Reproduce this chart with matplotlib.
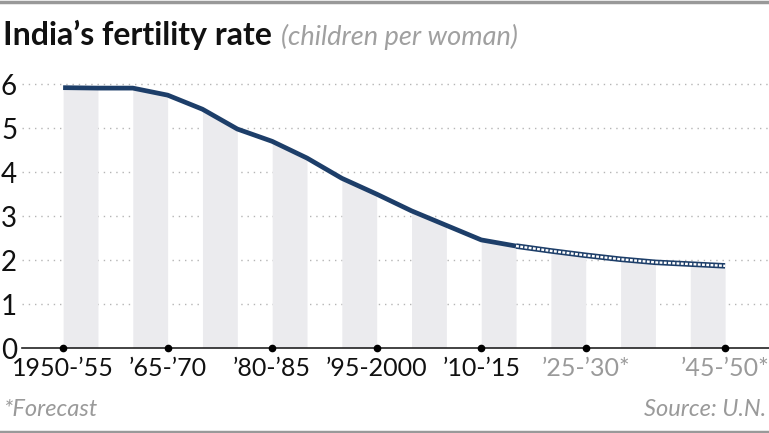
import matplotlib
matplotlib.use("Agg")
import matplotlib.pyplot as plt
from matplotlib.lines import Line2D

years = [1950, 1955, 1960, 1965, 1970, 1975, 1980, 1985, 1990, 1995,
         2000, 2005, 2010, 2015, 2020, 2025, 2030, 2035, 2040, 2045]
rates = [5.91, 5.90, 5.90, 5.74, 5.42, 4.97, 4.69, 4.31, 3.85, 3.49,
         3.11, 2.78, 2.45, 2.31, 2.20, 2.10, 2.01, 1.94, 1.90, 1.86]
forecast_start = 2015
tick_years = [1950, 1965, 1980, 1995, 2010, 2025, 2045]
tick_labels = ["1950-\u201955", "\u201965-\u201970", "\u201980-\u201985", "\u201995-2000",
               "\u201910-\u201915", "\u201925-\u201930*", "\u201945-\u201950*"]
forecast_labels = [False, False, False, False, False, True, True]
yticks = [0, 1, 2, 3, 4, 5, 6]

navy = "#1d3e69"
bar_c = "#ebebee"
grey_txt = "#9a9a9a"
FONT = "Lato"

fig = plt.figure(figsize=(7.69, 4.33), dpi=100)
ax = fig.add_axes([22/769, (433-347.7)/433, 1-22/769, (347.7-79.3)/433])
ax.set_xlim(1944.1, 2051.3)
ax.set_ylim(0, 6.1)

# alternating shaded columns under the line
for i in range(0, len(years) - 1, 2):
    ax.fill_between(years[i:i+2], [0, 0], rates[i:i+2], color=bar_c, lw=0, zorder=1)

# grid
for y in yticks[1:]:
    ax.axhline(y, color="#b5b5b5", lw=1.0, ls=(0, (1, 3.5)), zorder=0.5)

# line: actual
fi = years.index(forecast_start)
ax.plot(years[:fi+1], rates[:fi+1], color=navy, lw=3.4, solid_capstyle="butt",
        solid_joinstyle="round", zorder=3)
# forecast: outlined dashed
ax.plot(years[fi:], rates[fi:], color=navy, lw=4.0, solid_capstyle="butt", zorder=3)
ax.plot(years[fi:], rates[fi:], color="white", lw=1.7, ls=(0, (1.2, 0.6)),
        dash_capstyle="butt", zorder=4)

# axis line and tick dots
ax.axhline(0, color="#222222", lw=1.2, zorder=5, clip_on=False)
ax.plot(tick_years, [0]*len(tick_years), "o", color="black", ms=4.5, zorder=6, clip_on=False)

for s in ax.spines.values():
    s.set_visible(False)
ax.set_xticks([])
ax.set_yticks([])

for x, lab, fc in zip(tick_years, tick_labels, forecast_labels):
    ax.text(x, -0.2, lab, ha="center", va="top", fontsize=18, family=FONT,
            color=grey_txt if fc else "#111111", clip_on=False)
for y in yticks:
    fig.text(1/769, 1 - (347.7 - 44*y + 3)/433, str(y), ha="left", va="center",
             fontsize=20, family=FONT, color="#111111")

fig.text(3/769, 1 - 35/433, "India\u2019s fertility rate", ha="left", va="center",
         fontsize=23, fontweight="bold", family=FONT, color="#111111")
fig.text(281/769, 1 - 37/433, "(children per woman)", ha="left", va="center",
         fontsize=19.5, style="italic", family=FONT, color="#a0a0a0")

fig.text(3/769, 1 - 410/433, "*Forecast", ha="left", va="center",
         fontsize=17, style="italic", family=FONT, color=grey_txt)
fig.text(766/769, 1 - 410/433, "Source: U.N.", ha="right", va="center",
         fontsize=17, style="italic", family=FONT, color=grey_txt)

fig.add_artist(Line2D([0, 1], [1 - 1.5/433]*2, color="#999999", lw=2.5, transform=fig.transFigure))
fig.add_artist(Line2D([0, 1], [1.5/433]*2, color="#999999", lw=2.5, transform=fig.transFigure))

fig.savefig("out.png", dpi=100)
